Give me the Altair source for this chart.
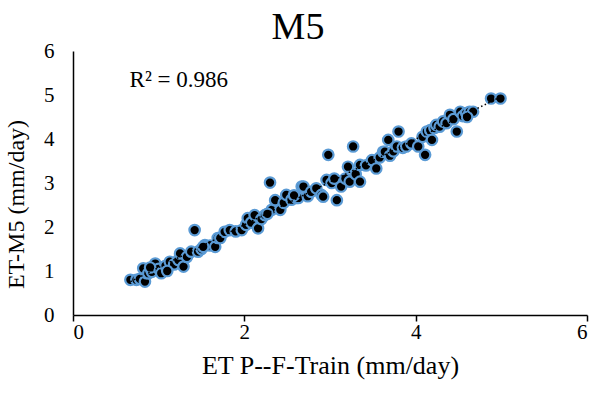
import altair as alt
import pandas as pd

et_train = [
    0.67, 0.74, 0.78, 0.84, 0.86, 0.82, 0.88, 0.92, 0.96, 1.00, 1.03, 1.08, 1.13, 1.18,
    1.23, 1.25, 1.29, 1.33, 1.38, 1.42, 1.46, 1.50, 1.54, 1.60, 1.66, 1.69, 1.72, 1.77,
    1.83, 1.90, 1.97, 2.02, 2.04, 2.08, 2.12, 2.16, 2.20, 2.24, 2.30, 2.32, 2.36, 2.42,
    2.46, 2.49, 2.55, 2.61, 2.63, 2.67, 2.69, 2.74, 2.78, 2.84, 2.90, 2.92, 2.96, 2.98,
    3.02, 3.08, 3.13, 3.18, 3.21, 3.23, 3.27, 3.30, 3.35, 3.35, 3.42, 3.49, 3.54, 3.58,
    3.62, 3.64, 3.68, 3.70, 3.74, 3.78, 3.80, 3.85, 3.89, 3.95, 4.03, 4.08, 4.11, 4.13,
    4.17, 4.19, 4.22, 4.24, 4.28, 4.32, 4.36, 4.40, 4.44, 4.48, 4.52, 4.55, 4.59, 4.63,
    4.67, 4.60, 4.88, 4.99, 0.90, 1.10, 1.52, 2.27, 2.58, 3.05,
]
et_m5 = [
    0.80, 0.80, 0.82, 0.76, 0.95, 1.06, 0.95, 0.98, 1.17, 1.05, 0.95, 1.12, 1.21, 1.15,
    1.25, 1.40, 1.10, 1.32, 1.44, 1.93, 1.44, 1.50, 1.59, 1.58, 1.55, 1.75, 1.75, 1.89,
    1.93, 1.90, 1.93, 2.05, 2.20, 2.10, 2.27, 1.97, 2.18, 2.27, 3.01, 2.39, 2.61, 2.39,
    2.55, 2.73, 2.62, 2.66, 2.66, 2.92, 2.92, 2.70, 2.80, 2.88, 2.73, 2.69, 3.07, 3.64,
    3.00, 2.61, 2.92, 3.10, 3.37, 3.03, 3.83, 3.20, 3.03, 3.41, 3.40, 3.52, 3.33, 3.58,
    3.71, 3.71, 3.98, 3.62, 3.72, 3.83, 4.17, 3.80, 3.83, 3.90, 3.83, 4.05, 3.64, 4.17,
    4.20, 3.98, 4.25, 4.32, 4.28, 4.40, 4.36, 4.55, 4.45, 4.17, 4.62, 4.52, 4.59, 4.62,
    4.62, 4.50, 4.92, 4.92, 1.08, 1.00, 1.55, 2.30, 2.72, 3.10,
]

annot_x = [0.66]
annot_y = [5.33]
annot_text = ["R² = 0.986"]

df = pd.DataFrame({"x": et_train, "y": et_m5})
ann = pd.DataFrame({"x": annot_x, "y": annot_y, "t": annot_text})

font = "Liberation Serif"

xs = alt.Scale(domain=[0, 6], nice=False)
ys = alt.Scale(domain=[0, 6], nice=False)

points = alt.Chart(df).mark_point(
    shape="circle", filled=True, fill="black", stroke="#5B9BD5",
    strokeWidth=2.2, size=110, opacity=1, fillOpacity=1, strokeOpacity=1
).encode(
    x=alt.X("x:Q", scale=xs, title="ET P--F-Train (mm/day)",
            axis=alt.Axis(values=[0, 2, 4, 6], format="d", grid=False, tickSize=6,
                          labelPadding=0, titlePadding=10, titleFontSize=26)),
    y=alt.Y("y:Q", scale=ys, title="ET-M5 (mm/day)",
            axis=alt.Axis(values=[0, 1, 2, 3, 4, 5, 6], format="d", grid=False, ticks=False,
                          labelPadding=19, titlePadding=15, titleY=153, titleFontSize=24)),
)

trend = alt.Chart(df).transform_regression("x", "y").mark_line(
    color="black", strokeDash=[1.5, 2.5], strokeWidth=1.5
).encode(x=alt.X("x:Q", scale=xs), y=alt.Y("y:Q", scale=ys))

text = alt.Chart(ann).mark_text(
    align="left", baseline="middle", font=font, fontSize=23, color="black"
).encode(x=alt.X("x:Q", scale=xs), y=alt.Y("y:Q", scale=ys), text="t:N")

chart = (points + trend + text).properties(
    width=514, height=264,
    autosize=alt.AutoSizeParams(type="none"),
    padding={"left": 73, "top": 51, "right": 7, "bottom": 81},
    title=alt.TitleParams("M5", font=font, fontSize=38, fontWeight="normal",
                          color="black", anchor="middle", offset=-7, dx=-32),
).configure_view(stroke=None).configure_title(
    font=font, fontWeight="normal", color="black"
).configure_axis(
    domainColor="black", domainWidth=1.5, tickColor="black", tickWidth=1.5,
    labelFont=font, labelFontSize=21, labelColor="black",
    titleFont=font, titleFontWeight="normal", titleColor="black",
)

chart.save("out.html", embed_options={"renderer": "svg", "actions": False})
